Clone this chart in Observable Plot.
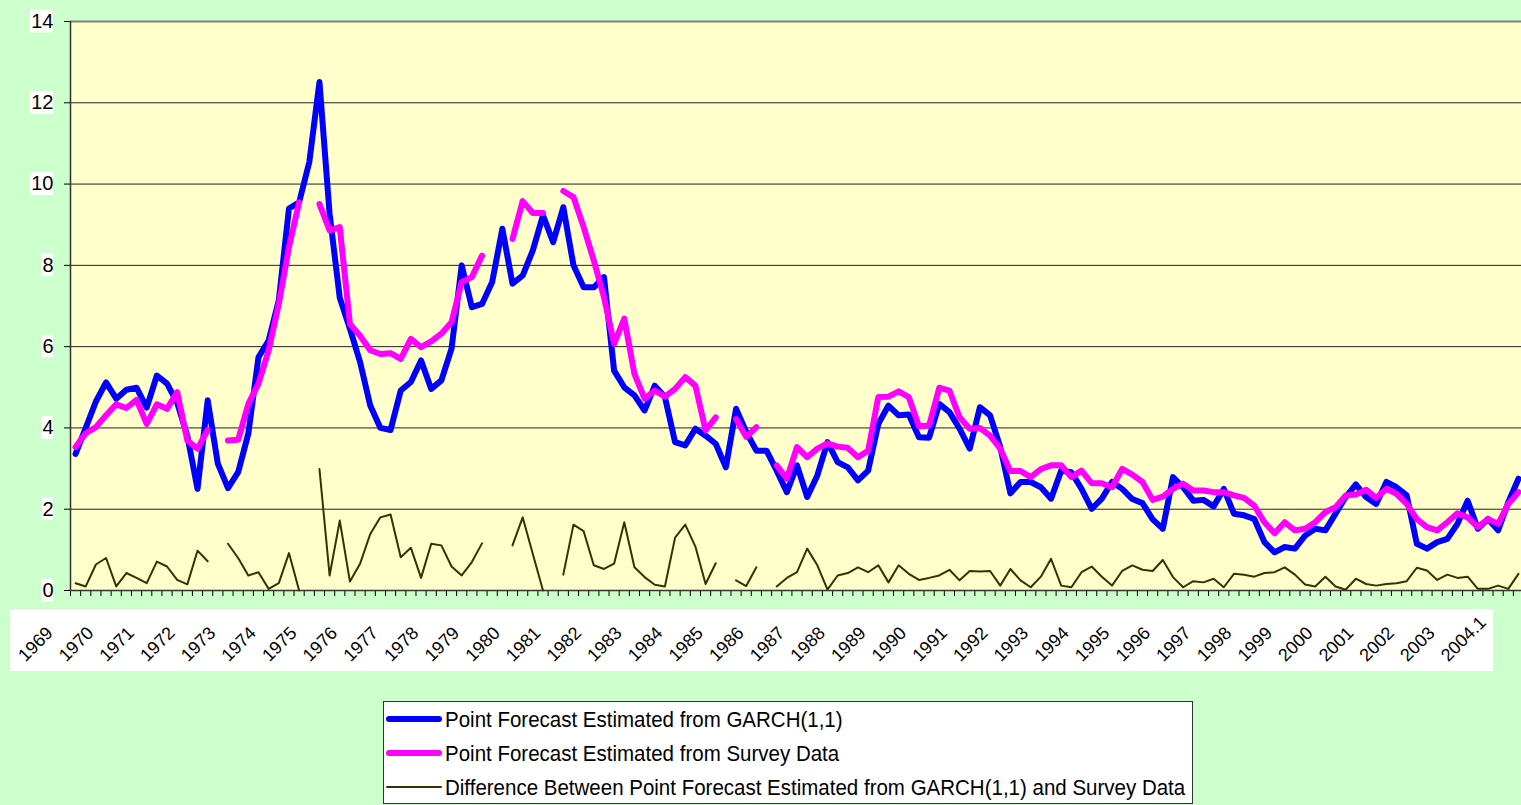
<!DOCTYPE html>
<html><head><meta charset="utf-8">
<script src="https://cdn.jsdelivr.net/npm/d3@7"></script>
<script src="https://cdn.jsdelivr.net/npm/@observablehq/plot@0.6"></script>
<style>
html,body{margin:0;padding:0;background:#CCFFCC;overflow:hidden;width:1521px;height:805px;}
#wrap{position:relative;width:1521px;height:805px;}
#band{position:absolute;left:10px;top:609px;width:1483px;height:62px;background:#fff;}
#chart{position:absolute;left:0;top:0;}
#legend{position:absolute;left:383px;top:701px;width:808px;height:101px;background:#fff;border:1px solid #333;font-family:"Liberation Sans",Arial,sans-serif;font-size:20.5px;color:#000;}
.row{position:absolute;left:0;height:34px;display:flex;align-items:center;}
.swatch{display:inline-block;width:56px;margin-left:2px;border-radius:3px;}
.lbl{margin-left:3px;white-space:nowrap;display:inline-block;transform:scaleY(1.1);}
</style></head>
<body><div id="wrap"><div id="band"></div><div id="chart"></div><div id="legend"></div></div>
<script>
// Quarterly observations, 1969.1 ... 2004.3 (index = quarter number)
const tickLabels = ["1969","1970","1971","1972","1973","1974","1975","1976","1977","1978","1979","1980","1981","1982","1983","1984","1985","1986","1987","1988","1989","1990","1991","1992","1993","1994","1995","1996","1997","1998","1999","2000","2001","2002","2003","2004.1"];

const garch = [3.36,4.0,4.65,5.12,4.72,4.94,4.99,4.5,5.29,5.09,
4.62,3.8,2.5,4.68,3.12,2.52,2.91,3.86,5.74,6.15,
7.14,9.4,9.55,10.54,12.51,9.27,7.2,6.44,5.62,4.55,
4.0,3.95,4.92,5.13,5.66,4.96,5.17,5.95,8.0,6.97,
7.05,7.59,8.9,7.55,7.75,8.37,9.23,8.57,9.43,8.0,
7.46,7.46,7.71,5.41,5.0,4.8,4.43,5.04,4.76,3.65,
3.57,3.98,3.81,3.61,3.03,4.47,3.9,3.44,3.44,2.95,
2.42,3.08,2.30,2.83,3.65,3.16,3.03,2.71,2.95,4.10,
4.55,4.31,4.33,3.77,3.76,4.59,4.39,3.98,3.49,4.51,
4.31,3.53,2.39,2.67,2.67,2.54,2.26,2.95,2.91,2.50,
2.01,2.26,2.67,2.50,2.25,2.15,1.75,1.52,2.79,2.54,
2.21,2.23,2.07,2.50,1.89,1.85,1.76,1.19,0.94,1.07,
1.03,1.35,1.52,1.48,1.89,2.30,2.61,2.30,2.13,2.67,
2.54,2.34,1.15,1.03,1.19,1.27,1.64,2.21,1.52,1.76,
1.48,2.17,2.75];

const survey = [3.53,3.87,4.02,4.31,4.58,4.49,4.69,4.10,4.58,4.47,
4.88,3.69,3.49,3.95,null,3.69,3.71,4.59,5.09,5.91,
7.05,8.45,9.55,null,9.51,8.86,8.94,6.56,6.27,5.91,
5.82,5.84,5.70,6.19,5.99,6.13,6.32,6.60,7.59,7.71,
8.24,null,null,8.65,9.58,9.29,9.29,null,9.83,9.68,
8.94,8.12,7.22,6.07,6.69,5.33,4.72,4.92,4.77,4.96,
5.25,5.04,3.94,4.26,null,4.22,3.78,4.02,null,3.08,
2.75,3.53,3.28,3.49,3.62,3.54,3.51,3.28,3.44,4.76,
4.77,4.90,4.76,4.04,4.06,4.99,4.92,4.26,3.98,4.00,
3.81,3.49,2.94,2.94,2.79,2.99,3.08,3.08,2.79,2.95,
2.64,2.64,2.54,2.99,2.85,2.67,2.23,2.31,2.50,2.63,
2.46,2.46,2.42,2.42,2.34,2.28,2.09,1.68,1.41,1.68,
1.48,1.52,1.68,1.93,2.05,2.34,2.36,2.48,2.28,2.50,
2.38,2.13,1.76,1.56,1.48,1.68,1.90,1.80,1.56,1.76,
1.64,2.13,2.42];

const diff = [0.18,0.10,0.64,0.80,0.10,0.43,0.31,0.18,0.71,0.59,
0.26,0.15,0.98,0.72,null,1.15,0.80,0.37,0.45,0.04,
0.18,0.92,0.0,null,2.99,0.37,1.72,0.22,0.66,1.39,
1.80,1.87,0.82,1.05,0.31,1.15,1.11,0.59,0.37,0.70,
1.16,null,null,1.11,1.80,0.90,0.0,null,0.39,1.62,
1.46,0.62,0.53,0.66,1.68,0.57,0.33,0.14,0.10,1.30,
1.62,1.08,0.16,0.67,null,0.25,0.11,0.57,null,0.10,
0.31,0.45,1.03,0.62,0.02,0.37,0.43,0.57,0.45,0.62,
0.20,0.62,0.41,0.26,0.31,0.37,0.51,0.25,0.48,0.47,
0.48,0.12,0.53,0.25,0.08,0.34,0.78,0.12,0.08,0.45,
0.59,0.34,0.12,0.48,0.62,0.51,0.48,0.75,0.33,0.08,
0.23,0.20,0.29,0.08,0.41,0.39,0.34,0.43,0.45,0.57,
0.39,0.15,0.10,0.34,0.10,0.02,0.29,0.16,0.12,0.16,
0.18,0.23,0.56,0.49,0.26,0.39,0.31,0.34,0.04,0.04,
0.12,0.04,0.41];

const yTicks = [0,2,4,6,8,10,12,14];

const seriesNames = [
  "Point Forecast Estimated from GARCH(1,1)",
  "Point Forecast Estimated from Survey Data",
  "Difference Between Point Forecast Estimated from GARCH(1,1) and Survey Data"
];
const seriesColors = ["#0000FF", "#FF00FF", "#333300"];
const seriesWidths = [6, 6, 2];

const N = garch.length;
const toRows = arr => arr.map((v, i) => ({i, v: v == null ? NaN : v}));
const boundaries = Array.from({length: N + 1}, (_, k) => k - 0.5);
const wide = yTicks.filter(t => t >= 10);
const narrow = yTicks.filter(t => t < 10);

const chart = Plot.plot({
  width: 1521,
  height: 700,
  marginTop: 21,
  marginBottom: 110,
  marginLeft: 70,
  marginRight: 0,
  style: {background: "transparent", overflow: "visible", fontFamily: "'Liberation Sans', Arial, sans-serif", fontSize: "20px", color: "#000"},
  x: {domain: [-0.5, 142.3], ticks: boundaries, tickSize: 6, tickFormat: () => "", label: null},
  y: {domain: [0, 14], ticks: yTicks, tickSize: 6, tickFormat: () => "", label: null},
  marks: [
    Plot.frame({fill: "#FFFFCC", stroke: "none"}),
    Plot.ruleY(yTicks.filter(t => t > 0 && t < 14), {stroke: "#222", strokeWidth: 1}),
    Plot.ruleY([14], {stroke: "#808080", strokeWidth: 2}),
    Plot.ruleY([0], {stroke: "#333", strokeWidth: 1.5}),
    Plot.ruleX([-0.5], {stroke: "#333", strokeWidth: 1.5}),
    Plot.rect(wide, {y1: d => d - 0.28, y2: d => d + 0.28, fill: "white", insetLeft: -40, insetRight: 1468}),
    Plot.rect(narrow, {y1: d => d - 0.28, y2: d => d + 0.28, fill: "white", insetLeft: -29, insetRight: 1468}),
    Plot.text(yTicks, {y: d => d, text: d => String(d), frameAnchor: "left", dx: -17, textAnchor: "end", fontSize: 20, fill: "#000"}),
    Plot.line(toRows(garch), {x: "i", y: "v", stroke: seriesColors[0], strokeWidth: seriesWidths[0], strokeLinejoin: "round", strokeLinecap: "round"}),
    Plot.line(toRows(survey), {x: "i", y: "v", stroke: seriesColors[1], strokeWidth: seriesWidths[1], strokeLinejoin: "round", strokeLinecap: "round"}),
    Plot.line(toRows(diff), {x: "i", y: "v", stroke: seriesColors[2], strokeWidth: seriesWidths[2], strokeLinejoin: "round"}),
    Plot.text(tickLabels, {x: (d, k) => k * 4, text: d => d, frameAnchor: "bottom", rotate: -45, textAnchor: "start", lineAnchor: "bottom", dx: -50, dy: 72, fontSize: 18, fill: "#000"})
  ]
});
document.getElementById("chart").appendChild(chart);

const legend = document.getElementById("legend");
seriesNames.forEach((name, k) => {
  const row = document.createElement("div");
  row.className = "row";
  row.style.top = (k * 34) + "px";
  const sw = document.createElement("span");
  sw.className = "swatch";
  sw.style.height = seriesWidths[k] + "px";
  sw.style.background = seriesColors[k];
  const lb = document.createElement("span");
  lb.className = "lbl";
  lb.textContent = name;
  row.appendChild(sw);
  row.appendChild(lb);
  legend.appendChild(row);
});
</script>
</body></html>
